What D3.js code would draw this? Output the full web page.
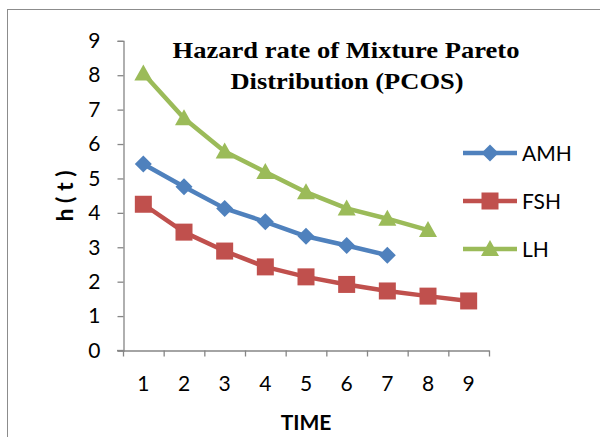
<!DOCTYPE html>
<html><head><meta charset="utf-8">
<script src="https://cdn.jsdelivr.net/npm/d3@7"></script>
<style>html,body{margin:0;padding:0;background:#fff;}svg{display:block;}</style>
</head><body>
<svg id="chart" width="600" height="437"></svg>
<script>
const categories = [1,2,3,4,5,6,7,8,9];
const yTicks = [0,1,2,3,4,5,6,7,8,9];
const seriesNames = ["AMH","FSH","LH"];
const amh = [5.42,4.76,4.13,3.74,3.32,3.05,2.77];
const fsh = [4.25,3.44,2.89,2.43,2.14,1.92,1.73,1.58,1.44];
const lh  = [8.05,6.75,5.78,5.19,4.60,4.13,3.83,3.50];
const colors = ["#4F81BD","#C0504D","#9BBB59"];
const titleLines = ["Hazard rate of Mixture Pareto","Distribution (PCOS)"];

const svg = d3.select("#chart");
const sans = "Lato, 'Open Sans', sans-serif";
const serif = "'Liberation Serif', 'Times New Roman', serif";
const axisColor = "#868686";

// frame
svg.append("rect").attr("x",7.5).attr("y",9.5).attr("width",640).attr("height",460)
  .attr("fill","none").attr("stroke","#8c8c8c").attr("stroke-width",1);

const x = d3.scaleBand().domain(categories).range([123,489]).padding(0);
const y = d3.scaleLinear().domain([0,9]).range([350.5,40.8]);

// y axis
const ya = svg.append("g").attr("transform","translate(123.5,0)")
  .call(d3.axisLeft(y).tickValues(yTicks).tickSize(6).tickPadding(17));
ya.select(".domain").attr("stroke",axisColor).attr("stroke-width",1.3);
ya.selectAll(".tick line").attr("stroke",axisColor).attr("stroke-width",1.3);
ya.selectAll(".tick text").attr("font-family",sans).attr("font-size",21).attr("fill","#000");

// x axis
const xa = svg.append("g").attr("transform","translate(0,350.5)")
  .call(d3.axisBottom(x).tickSize(0).tickPadding(26));
xa.select(".domain").attr("stroke",axisColor).attr("stroke-width",1.3);
xa.selectAll(".tick text").attr("font-family",sans).attr("font-size",21).attr("fill","#000");
const edges = categories.map(c=>x(c)).concat([x(categories[categories.length-1])+x.bandwidth()]);
xa.selectAll(".edge").data(edges).enter().append("line").attr("class","edge")
  .attr("x1",d=>d+0.5).attr("x2",d=>d+0.5).attr("y1",0).attr("y2",6)
  .attr("stroke",axisColor).attr("stroke-width",1.3);
svg.append("line").attr("x1",117).attr("x2",124).attr("y1",350.5).attr("y2",350.5)
  .attr("stroke",axisColor).attr("stroke-width",1.3);

// axis titles
svg.append("text").attr("x",306).attr("y",430).attr("text-anchor","middle")
  .attr("font-family",sans).attr("font-weight","bold").attr("font-size",21).text("TIME");
svg.append("text").attr("transform","translate(73,196) rotate(-90)").attr("text-anchor","middle")
  .attr("font-family",sans).attr("font-weight","bold").attr("font-size",23).text("h ( t )");

// title
svg.append("text").attr("x",346).attr("y",58).attr("text-anchor","middle")
  .attr("font-family",serif).attr("font-weight","bold")
  .attr("font-size",24).attr("textLength",347).attr("lengthAdjust","spacingAndGlyphs").text(titleLines[0]);
svg.append("text").attr("x",347).attr("y",89).attr("text-anchor","middle")
  .attr("font-family",serif).attr("font-weight","bold")
  .attr("font-size",24).attr("textLength",233).attr("lengthAdjust","spacingAndGlyphs").text(titleLines[1]);

const cx = i => x(categories[i]) + x.bandwidth()/2;
const line = d3.line().x((d,i)=>cx(i)).y(d=>y(d));

function marker(g, type, color){
  if(type===0){
    g.append("path").attr("d","M0,-8.5L8.5,0L0,8.5L-8.5,0Z").attr("fill",color);
  } else if(type===1){
    g.append("rect").attr("x",-8.5).attr("y",-8.5).attr("width",17).attr("height",17).attr("fill",color);
  } else {
    g.append("path").attr("d","M0,-9L9,7L-9,7Z").attr("fill",color);
  }
}

const allSeries = [amh,fsh,lh];
allSeries.forEach((vals,si)=>{
  svg.append("path").datum(vals).attr("d",line).attr("fill","none")
    .attr("stroke",colors[si]).attr("stroke-width",4.5).attr("stroke-linejoin","round");
  vals.forEach((v,i)=>{
    const g = svg.append("g").attr("transform",`translate(${cx(i)},${y(v)})`);
    marker(g, si, colors[si]);
  });
});

// legend
const legY = [153,201,249];
seriesNames.forEach((n,si)=>{
  svg.append("line").attr("x1",463).attr("x2",517).attr("y1",legY[si]).attr("y2",legY[si])
    .attr("stroke",colors[si]).attr("stroke-width",4.5);
  const g = svg.append("g").attr("transform",`translate(490,${legY[si]})`);
  marker(g, si, colors[si]);
  svg.append("text").attr("x",522).attr("y",legY[si]+8).attr("font-family",sans)
    .attr("font-size",21).attr("fill","#000").text(n);
});
</script>
</body></html>
